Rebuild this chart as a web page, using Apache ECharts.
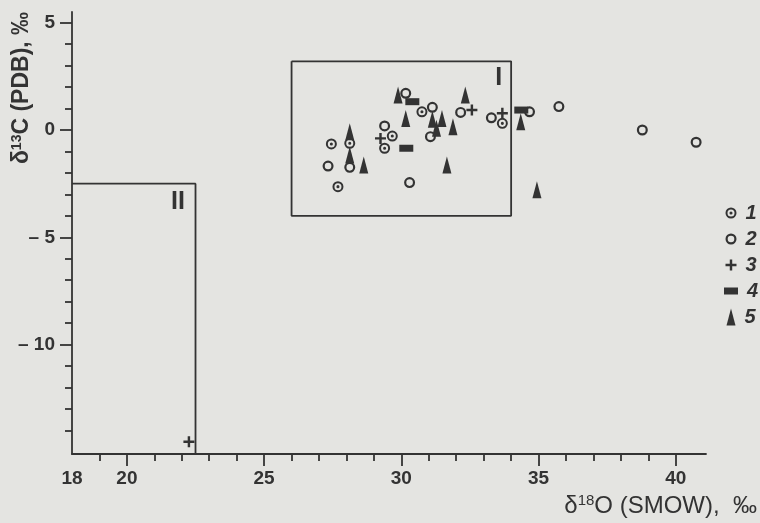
<!DOCTYPE html>
<html><head><meta charset="utf-8">
<script src="https://cdn.jsdelivr.net/npm/echarts@6/dist/echarts.min.js"></script>
<style>html,body{margin:0;padding:0;background:#e4e4e1}#c{width:760px;height:523px}</style>
</head><body><div id="c"></div>
<script>
// ---- data ----
const xMin = 18, xMax = 41.1, yMin = -15.1, yMax = 5.5;
const xMajorTicks = [20, 25, 30, 35, 40];
const xMinorTicks = [19, 21, 22, 23, 24, 26, 27, 28, 29, 31, 32, 33, 34, 36, 37, 38, 39];
const xTickLabels = [18, 20, 25, 30, 35, 40];
const yMajorTicks = [-10, -5, 0, 5];
const yMinorTicks = [-14, -13, -12, -11, -9, -8, -7, -6, -4, -3, -2, -1, 1, 2, 3, 4];
const yTickLabels = [-10, -5, 0, 5];

const type1 = [[30.75,0.85],[29.67,-0.28],[29.39,-0.85],[27.45,-0.65],[28.12,-0.62],[27.69,-2.64],[33.68,0.31]];
const type2 = [[30.16,1.71],[31.13,1.06],[32.16,0.82],[29.39,0.19],[31.06,-0.31],[27.33,-1.68],[28.12,-1.74],[30.30,-2.45],[33.28,0.57],[34.67,0.85],[35.74,1.09],[38.78,0.0],[40.74,-0.57]];
const type3 = [[32.57,0.93],[29.24,-0.39],[33.68,0.78],[22.26,-14.53]];
const type4 = [[30.40,1.32],[30.18,-0.85],[34.37,0.93]];
const type5 = [[29.88,1.63],[32.33,1.63],[30.16,0.54],[31.13,0.50],[31.48,0.54],[31.28,0.08],[31.88,0.15],[28.12,-0.08],[28.12,-1.16],[28.63,-1.63],[31.66,-1.63],[34.35,0.39],[34.94,-2.79]];

const boxI = [[26,3.2],[34,3.2],[34,-4],[26,-4],[26,3.2]];
const boxII = [[18,-2.5],[22.5,-2.5],[22.5,-15.1]];
const zoneLabels = [{name:'I', value:[33.55,2.41]}, {name:'II', value:[21.86,-3.34]}];
const legendNames = ['1','2','3','4','5'];

// ---- styling ----
const INK = '#333333';
const FONT = '"Liberation Sans", Arial, sans-serif';
const ringDot = 'path://M0 5A5 5 0 1 1 10 5A5 5 0 1 1 0 5ZM1.8 5A3.2 3.2 0 1 0 8.2 5A3.2 3.2 0 1 0 1.8 5ZM3.6 5A1.4 1.4 0 1 1 6.4 5A1.4 1.4 0 1 1 3.6 5Z';
const ring = 'path://M0 5A5 5 0 1 1 10 5A5 5 0 1 1 0 5ZM2 5A3 3 0 1 0 8 5A3 3 0 1 0 2 5Z';
const plus = 'path://M3.5 0H5.5V3.5H9V5.5H5.5V9H3.5V5.5H0V3.5H3.5Z';
const markers = [
  {symbol: ringDot, size: 11},
  {symbol: ring, size: 11},
  {symbol: plus, size: 11},
  {symbol: 'rect', size: [14, 7]},
  {symbol: 'triangle', size: [9, 17]}
];
const seriesData = [type1, type2, type3, type4, type5];

const fmtY = v => v < 0 ? '– ' + Math.abs(v) : String(v);

const series = [];
series.push({type:'line', data:boxI, symbol:'none', silent:true, lineStyle:{color:INK, width:1.8}, z:2});
series.push({type:'line', data:boxII, symbol:'none', silent:true, lineStyle:{color:INK, width:1.8}, z:2});
series.push({type:'scatter', data:zoneLabels, symbolSize:1, silent:true, z:4,
  itemStyle:{opacity:0},
  label:{show:true, position:'inside', formatter:p=>p.name, fontFamily:FONT, fontWeight:'bold', fontSize:25, color:INK, opacity:1, textBorderWidth:0}});
seriesData.forEach((d,i)=>{
  series.push({type:'scatter', name:legendNames[i], data:d, symbol:markers[i].symbol, symbolSize:markers[i].size,
    itemStyle:{color:INK, opacity:1}, z:3});
  series.push({type:'scatter', xAxisIndex:2, yAxisIndex:2, data:[[0.5, i]], symbol:markers[i].symbol, symbolSize:markers[i].size,
    itemStyle:{color:INK, opacity:1}, z:3,
    label:{show:true, position:'right', distance:9, formatter:legendNames[i], fontFamily:FONT, fontStyle:'italic', fontWeight:'bold', fontSize:20, color:INK}});
});

const axisLineStyle = {color:INK, width:1.8};
const option = {
  backgroundColor:'#e4e4e1',
  animation:false,
  grid:[
    {left:72, right:54, top:12, bottom:69, containLabel:false, outerBoundsMode:'none'},
    {left:721, width:20, top:200, height:130, containLabel:false, outerBoundsMode:'none'}
  ],
  xAxis:[
    {type:'value', gridIndex:0, min:xMin, max:xMax, position:'bottom',
      axisLine:{show:true, onZero:false, lineStyle:axisLineStyle},
      axisTick:{show:true, length:12, lineStyle:{color:INK, width:1.8}, customValues:xMajorTicks},
      axisLabel:{show:true, customValues:xTickLabels, margin:15, fontFamily:FONT, fontWeight:'bold', fontSize:19, color:INK},
      splitLine:{show:false}},
    {type:'value', gridIndex:0, min:xMin, max:xMax, position:'bottom',
      axisLine:{show:false, onZero:false},
      axisTick:{show:true, length:7, lineStyle:{color:INK, width:1.8}, customValues:xMinorTicks},
      axisLabel:{show:false}, splitLine:{show:false}},
    {type:'value', gridIndex:1, min:0, max:1, show:false}
  ],
  yAxis:[
    {type:'value', gridIndex:0, min:yMin, max:yMax, position:'left',
      axisLine:{show:true, onZero:false, lineStyle:axisLineStyle},
      axisTick:{show:true, length:12, lineStyle:{color:INK, width:1.8}, customValues:yMajorTicks},
      axisLabel:{show:true, customValues:yTickLabels, formatter:fmtY, margin:17, fontFamily:FONT, fontWeight:'bold', fontSize:19, color:INK},
      splitLine:{show:false}},
    {type:'value', gridIndex:0, min:yMin, max:yMax, position:'left',
      axisLine:{show:false, onZero:false},
      axisTick:{show:true, length:7, lineStyle:{color:INK, width:1.8}, customValues:yMinorTicks},
      axisLabel:{show:false}, splitLine:{show:false}},
    {type:'category', gridIndex:1, data:legendNames, inverse:true, show:false}
  ],
  graphic:[
    {type:'text', x:757, y:506, z:10,
      style:{text:'δ{s|18}O (SMOW),  ‰', textAlign:'right', textVerticalAlign:'middle', fill:INK,
        font:'24px ' + FONT, rich:{s:{fontSize:15, verticalAlign:'top', fill:INK, padding:[0,0,10,0], fontFamily:FONT}}}},
    {type:'text', x:22, y:88, rotation:Math.PI/2, z:10,
      style:{text:'δ{s|13}C (PDB), ‰', textAlign:'center', textVerticalAlign:'middle', fill:INK,
        font:'bold 23px ' + FONT, rich:{s:{fontSize:14, fontWeight:'bold', verticalAlign:'top', fill:INK, padding:[0,0,10,0], fontFamily:FONT}}}}
  ],
  series: series
};
const chart = echarts.init(document.getElementById('c'), null, {renderer:'canvas'});
chart.setOption(option);
</script>
</body></html>
